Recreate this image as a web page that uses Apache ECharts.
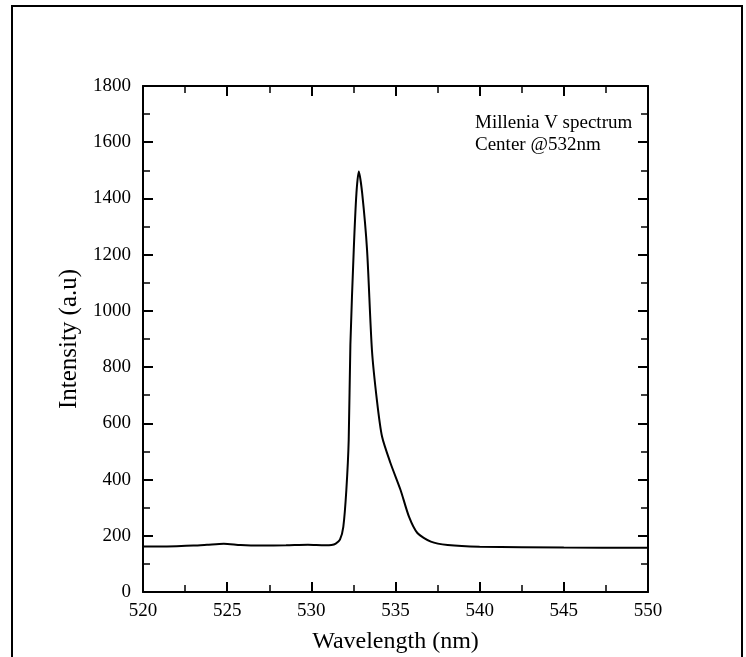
<!DOCTYPE html>
<html>
<head>
<meta charset="utf-8">
<script src="https://cdn.jsdelivr.net/npm/echarts@6/dist/echarts.min.js"></script>
<style>html,body{margin:0;padding:0;background:#fff;}#c{width:746px;height:657px;}</style>
</head>
<body>
<div id="c"></div>
<script>
var wavelength = [520, 521, 522, 523, 523.8, 524.8, 525.8, 527, 528.5, 529.8, 530.8, 531.2, 531.45, 531.7, 531.9, 532.08, 532.22, 532.32, 532.52, 532.68, 532.82, 533.02, 533.31, 533.6, 533.9, 534.2, 534.7, 535.3, 535.8, 536.3, 537.1, 538.1, 540, 545, 550];
var intensity  = [162, 162, 163, 165, 168, 172, 167, 165, 166, 168, 166, 167, 172, 186, 232, 363, 541, 880, 1217, 1419, 1496, 1419, 1217, 861, 680, 553, 459, 363, 268, 210, 179, 167, 161, 158, 157];
var xTicks = [520, 525, 530, 535, 540, 545, 550];
var yTicks = [0, 200, 400, 600, 800, 1000, 1200, 1400, 1600, 1800];
var annotation = ["Millenia V spectrum", "Center @532nm"];

var font = "Liberation Serif";
var chart = echarts.init(document.getElementById('c'), null, {renderer: 'canvas'});
var pts = wavelength.map(function (w, i) { return [w, intensity[i]]; });
var axLine = {show: true, onZero: false, lineStyle: {color: '#000', width: 2}};
var tick = {show: true, inside: true, length: 10, lineStyle: {color: '#000', width: 2}};
var minor = {show: true, splitNumber: 2, length: 7, lineStyle: {color: '#000', width: 1.5}};
chart.setOption({
  animation: false,
  backgroundColor: '#fff',
  grid: {left: 143, right: 98, top: 86, bottom: 65, containLabel: false, outerBoundsMode: 'none'},
  xAxis: [{
    type: 'value', min: 520, max: 550, interval: 5, position: 'bottom',
    axisLine: axLine, axisTick: tick, minorTick: minor, splitLine: {show: false},
    axisLabel: {color: '#000', fontFamily: font, fontSize: 19, margin: 10, showMinLabel: true, showMaxLabel: true,
      formatter: function (v) { return xTicks.indexOf(v) >= 0 ? String(v) : ''; }},
    name: 'Wavelength (nm)', nameLocation: 'middle', nameGap: 38,
    nameTextStyle: {color: '#000', fontFamily: font, fontSize: 24}
  }, {
    type: 'value', min: 520, max: 550, interval: 5, position: 'top',
    axisLine: axLine, axisTick: tick, minorTick: minor, splitLine: {show: false}, axisLabel: {show: false}
  }],
  yAxis: [{
    type: 'value', min: 0, max: 1800, interval: 200, position: 'left',
    axisLine: axLine, axisTick: tick, minorTick: minor, splitLine: {show: false},
    axisLabel: {color: '#000', fontFamily: font, fontSize: 19, margin: 12,
      formatter: function (v) { return yTicks.indexOf(v) >= 0 ? String(v) : ''; }},
    name: 'Intensity (a.u)', nameLocation: 'middle', nameGap: 53, nameRotate: 90,
    nameTextStyle: {color: '#000', fontFamily: font, fontSize: 25}
  }, {
    type: 'value', min: 0, max: 1800, interval: 200, position: 'right',
    axisLine: axLine, axisTick: tick, minorTick: minor, splitLine: {show: false}, axisLabel: {show: false}
  }],
  graphic: [
    {type: 'rect', shape: {x: 12, y: 6, width: 730, height: 700}, style: {fill: 'none', stroke: '#000', lineWidth: 2}, silent: true},
    {type: 'text', x: 475, y: 112, style: {text: annotation.join('\n'), fill: '#000', font: '19px "Liberation Serif"', lineHeight: 22}}
  ],
  series: [{
    type: 'line', data: pts, xAxisIndex: 0, yAxisIndex: 0, showSymbol: false, smooth: 0.25,
    lineStyle: {color: '#000', width: 2}
  }]
});
</script>
</body>
</html>
